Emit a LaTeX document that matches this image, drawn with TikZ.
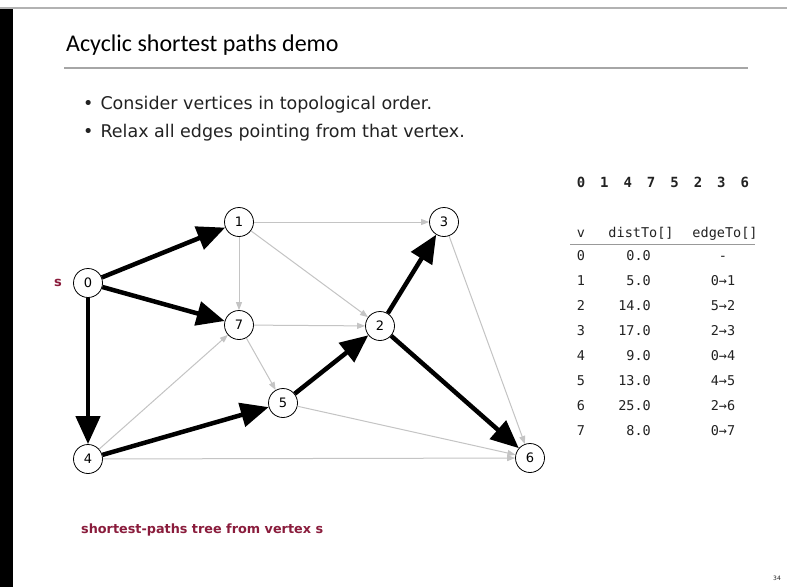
\documentclass[tikz,border=0pt]{standalone}
\usepackage{fontspec}
\setmainfont{DejaVu Sans}
\newfontfamily\titlefont{Carlito}
\newfontfamily\codefont{DejaVu Sans Mono}
\usetikzlibrary{arrows.meta,positioning}
\definecolor{spred}{HTML}{8A1C3C}
\definecolor{lightedge}{HTML}{C4C4C4}
\definecolor{ink}{HTML}{222222}

\begin{document}
\begin{tikzpicture}[x=1pt, y=-1pt,
  vtx/.style={draw, circle, fill=white, minimum size=29pt, inner sep=0pt,
    line width=0.8pt, font=\fontsize{13}{13}\selectfont},
  tree/.style={-{Triangle[length=28pt,width=24pt]}, line width=4.5pt},
  plain/.style={-{Triangle[length=8pt,width=6pt]}, line width=1pt, color=lightedge},
  txt/.style={anchor=base west, inner sep=0pt, text=ink},
  cell/.style={anchor=base, inner sep=0pt, text=ink, font=\codefont\fontsize{13.5}{13.5}\selectfont}
]
\useasboundingbox (0,0) rectangle (787,587);
% frame of the slide
\fill[white] (0,0) rectangle (787,587);
\fill[black] (0,9) rectangle (13,587);
\draw[gray!60, line width=2pt] (0,8) -- (787,8);
\draw[gray!70, line width=1.5pt] (64,68) -- (748,68);

\node[txt, text=black, font=\titlefont\fontsize{24}{24}\selectfont] (title) at (66,51)
  {Acyclic shortest paths demo};
\node[txt, font=\fontsize{17.5}{17.5}\selectfont] (b1) at (83,109)
  {\textbullet\hspace{7pt}Consider vertices in topological order.};
\node[txt, font=\fontsize{17.5}{17.5}\selectfont] (b2) at (83,137)
  {\textbullet\hspace{7pt}Relax all edges pointing from that vertex.};

% graph
\node[vtx] (v0) at (88,283) {0};
\node[vtx] (v1) at (239,222) {1};
\node[vtx] (v3) at (444,222) {3};
\node[vtx] (v7) at (239,325) {7};
\node[vtx] (v2) at (380,326) {2};
\node[vtx] (v5) at (283,403) {5};
\node[vtx] (v4) at (88,459) {4};
\node[vtx] (v6) at (530,458) {6};
\node[txt, anchor=center, text=spred, font=\bfseries\fontsize{13}{13}\selectfont] (s)
  at (58,283) {s};

\foreach \a/\b in {v1/v3, v1/v7, v1/v2, v7/v2, v7/v5, v4/v7, v5/v6, v4/v6, v3/v6}
  \draw[plain] (\a) -- (\b);
\foreach \a/\b in {v0/v1, v0/v7, v0/v4, v4/v5, v5/v2, v2/v3, v2/v6}
  \draw[tree] (\a) -- (\b);

% topological order
\foreach \v [count=\i from 0] in {0,1,4,7,5,2,3,6}
  \node[cell, font=\codefont\bfseries\fontsize{14}{14}\selectfont] (o\i) at (581+23.4*\i,187) {\v};

% table
\node[cell] (hv) at (581,237) {v};
\node[cell] (hd) at (641,237) {distTo[]};
\node[cell] (he) at (725,237) {edgeTo[]};
\draw[gray!80, line width=1pt] (570,244) -- (755,244);
\foreach \v/\d/\e [count=\i from 0] in {0/0.0/-, 1/5.0/0→1, 2/14.0/5→2, 3/17.0/2→3,
    4/9.0/0→4, 5/13.0/4→5, 6/25.0/2→6, 7/8.0/0→7} {
  \node[cell] (r\i v) at (581,260+25*\i) {\v};
  \node[cell, anchor=base east] (r\i d) at (651,260+25*\i) {\d};
  \node[cell] (r\i e) at (723,260+25*\i) {\e};
}

\node[txt, text=spred, font=\bfseries\fontsize{12.8}{12.8}\selectfont] (cap) at (81,533)
  {shortest-paths tree from vertex s};
\node[txt, font=\fontsize{6}{6}\selectfont] (pg) at (773,580) {34};
\end{tikzpicture}
\end{document}
